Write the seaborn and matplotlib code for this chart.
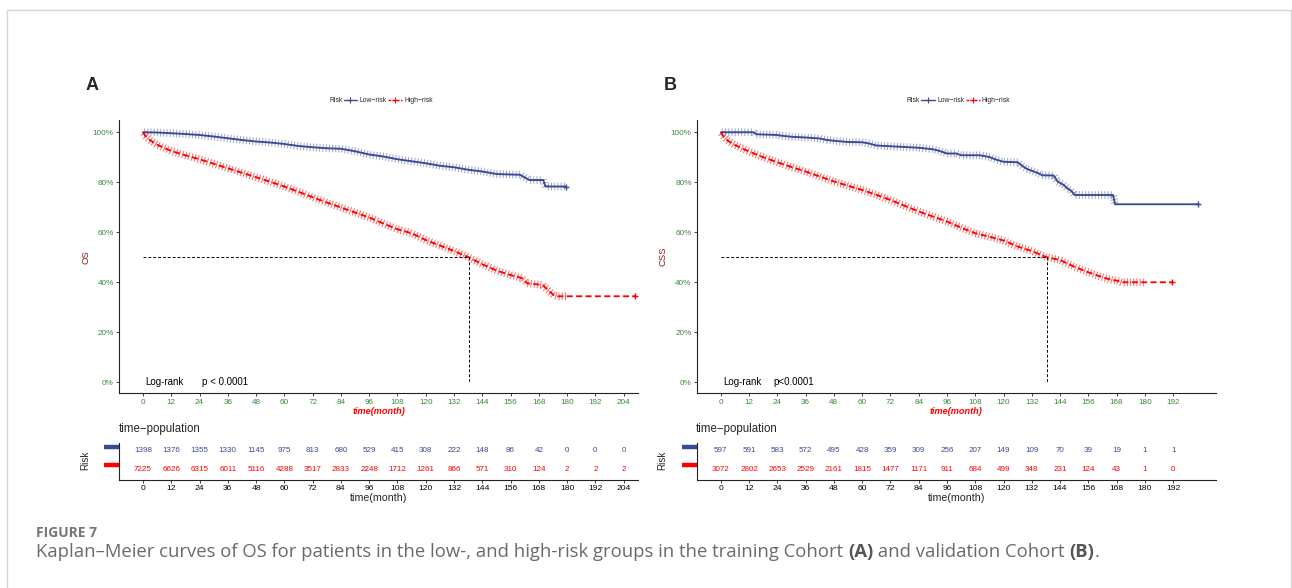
import numpy as np
import pandas as pd
import matplotlib
matplotlib.use("Agg")
import matplotlib.pyplot as plt
import seaborn as sns
from matplotlib import patheffects as pe
from matplotlib.lines import Line2D
from matplotlib.patches import Rectangle

# ---------------- data ----------------
groups = ["Low\u2212risk", "High\u2212risk"]

# Panel A (training cohort, OS)
a_low_t = [0, 6, 12, 18, 24, 30, 36, 42, 48, 54, 60, 66, 72, 78, 84, 90, 96, 102, 108, 114,
           120, 126, 132, 138, 144, 150, 156, 160, 162, 164, 169.9, 170.8, 179.5]
a_low_s = [100, 99.9, 99.6, 99.3, 98.9, 98.3, 97.6, 96.9, 96.3, 95.9, 95.3, 94.5, 94.0, 93.6, 93.4, 92.4,
           91.1, 90.3, 89.2, 88.4, 87.6, 86.6, 86.0, 85.0, 84.3, 83.3, 83.1, 83.0, 81.9, 80.9, 80.9, 78.3, 78.3]
a_high_t = [0, 1, 3, 6, 12, 18, 24, 30, 36, 42, 48, 54, 60, 66, 72, 78, 84, 90, 96, 102, 108, 114,
            120, 126, 132, 138, 144, 150, 156, 161, 163, 169.7, 171.8, 174.3, 176, 180, 209]
a_high_s = [100, 98.5, 96.8, 95.0, 92.5, 90.8, 89.2, 87.4, 85.6, 83.8, 82.0, 80.2, 78.3, 76.2, 74.0, 71.9,
            69.9, 67.9, 65.9, 63.5, 61.2, 59.6, 56.9, 54.7, 52.5, 50.1, 47.2, 44.7, 42.9, 41.6, 39.6, 38.9,
            36.9, 34.9, 34.4, 34.4, 34.4]
a_dense_censor_until = [179.5, 180]

# Panel B (validation cohort, CSS)
b_low_t = [0, 14, 15, 24, 25, 30, 36, 42, 45, 48, 54, 60, 63, 66, 72, 78, 84, 90, 93, 96, 100, 102,
           110, 114, 117, 120, 126, 128, 130, 132, 134.8, 136.4, 141.3, 142.9, 145.4, 147, 148.6, 150.2,
           166.5, 167.3, 202.5]
b_low_s = [100, 100, 99.2, 98.9, 98.7, 98.2, 97.9, 97.5, 96.9, 96.6, 96.1, 96.0, 95.5, 94.7, 94.4, 94.1,
           93.8, 93.2, 92.5, 91.5, 91.5, 90.8, 90.8, 90.1, 89.0, 88.2, 88.0, 86.5, 85.3, 84.6, 83.6, 82.8,
           82.7, 80.3, 79.0, 77.6, 76.7, 74.9, 74.9, 71.2, 71.2]
b_high_t = [0, 1, 3, 6, 12, 18, 24, 30, 36, 42, 48, 54, 60, 66, 72, 78, 84, 90, 96, 102, 108, 114,
            120, 126, 132, 138, 144, 150, 156, 162, 166, 168, 170, 180, 191.6]
b_high_s = [100, 98.5, 96.6, 94.9, 92.3, 90.0, 88.0, 86.1, 84.3, 82.3, 80.3, 78.6, 76.9, 75.0, 72.9, 70.6,
            68.3, 66.3, 64.3, 61.8, 59.6, 58.2, 56.7, 54.3, 52.5, 50.1, 48.9, 46.2, 44.0, 42.0, 40.9, 40.7,
            40.0, 40.0, 40.0]
b_dense_censor_until = [180, 180]

# Risk tables
a_table_times = [0, 12, 24, 36, 48, 60, 72, 84, 96, 108, 120, 132, 144, 156, 168, 180, 192, 204]
a_n_low = [1398, 1376, 1355, 1330, 1145, 975, 813, 680, 529, 415, 308, 222, 148, 86, 42, 0, 0, 0]
a_n_high = [7225, 6626, 6315, 6011, 5116, 4288, 3517, 2833, 2248, 1712, 1261, 866, 571, 310, 124, 2, 2, 2]
b_table_times = [0, 12, 24, 36, 48, 60, 72, 84, 96, 108, 120, 132, 144, 156, 168, 180, 192]
b_n_low = [597, 591, 583, 572, 495, 428, 359, 309, 256, 207, 149, 109, 70, 39, 19, 1, 1]
b_n_high = [3072, 2802, 2653, 2529, 2161, 1815, 1477, 1171, 911, 684, 499, 348, 231, 124, 43, 1, 0]

y_ticks = [0, 20, 40, 60, 80, 100]

# ---------------- style ----------------
sns.set_style("white")
plt.rcParams["font.family"] = ["Liberation Sans", "DejaVu Sans"]
plt.rcParams["axes.unicode_minus"] = True

BLUE = "#3B4992"
RED = "#FF0000"
GREEN = "#3A8A3A"
DARKRED = "#8B1A1A"
pal = {groups[0]: BLUE, groups[1]: RED}

W, H = 1292, 588
fig = plt.figure(figsize=(W / 100, H / 100), dpi=100)
fig.patch.set_facecolor("white")


def fx(x):
    return x / W


def fy(y):
    return 1 - y / H


def draw_panel(left, letter, ylabel, lt, ls, ht, hs, dense_until, ttimes, nlow, nhigh, p_text, p_x):
    right = left + 518.5
    ax = fig.add_axes([fx(left), fy(393.3), (right - left) / W, (393.3 - 120) / H])
    df = pd.DataFrame({
        "time": list(lt) + list(ht),
        "surv": list(ls) + list(hs),
        "Risk": [groups[0]] * len(lt) + [groups[1]] * len(ht),
    })
    sns.lineplot(data=df, x="time", y="surv", hue="Risk", style="Risk", palette=pal,
                 dashes={groups[0]: "", groups[1]: (3.2, 1.8)}, estimator=None, sort=False,
                 linewidth=1.35, legend=False, ax=ax)
    # censor marks
    for (t, s), col, until, alpha in zip([(lt, ls), (ht, hs)], [BLUE, RED], dense_until, [0.5, 0.6]):
        t = np.asarray(t, float)
        s = np.asarray(s, float)
        m = t <= until
        ax.plot(t[m], s[m], color=col, lw=0.7,
                path_effects=[pe.TickedStroke(spacing=2.3, angle=90, length=1.1, alpha=alpha),
                              pe.TickedStroke(spacing=2.3, angle=-90, length=1.1, alpha=alpha)])
        ax.plot(t[-1:], s[-1:], ls="none", marker="+", ms=5, mew=1.0, color=col)
    # median survival lines
    hs_arr = np.asarray(hs, float)
    ht_arr = np.asarray(ht, float)
    med = float(np.interp(50, hs_arr[::-1], ht_arr[::-1]))
    ax.plot([0, med], [50, 50], color="black", lw=0.7, dashes=(3, 2))
    ax.plot([med, med], [50, 0], color="black", lw=0.7, dashes=(3, 2))

    ax.set_xlim(-10.06, 210)
    ax.set_ylim(-4.4, 104.9)
    ax.set_xticks(ttimes)
    ax.set_yticks(y_ticks)
    ax.set_yticklabels([f"{v}%" for v in y_ticks])
    for sp in ["top", "right"]:
        ax.spines[sp].set_visible(False)
    for sp in ["left", "bottom"]:
        ax.spines[sp].set_color("#222222")
        ax.spines[sp].set_linewidth(0.8)
    ax.tick_params(axis="both", which="major", length=2.5, width=0.6, color="#222222",
                   labelsize=5.9, labelcolor=GREEN, pad=1.5, left=True, bottom=True)
    ax.set_xlabel("time(month)", fontsize=6.6, color=RED, fontweight="bold", style="italic")
    ax.xaxis.label.set_va("center")
    ax.xaxis.set_label_coords(0.5, (393.3 - 411) / 273.3)
    ax.set_ylabel(ylabel, fontsize=6.8, color=DARKRED)
    ax.yaxis.label.set_va("center")
    ax.yaxis.set_label_coords(-33.7 / 518.5, 0.5)
    ax.text(1.1, 0, "Log-rank", fontsize=7, va="center", ha="left", color="black")
    ax.text(p_x, 0, p_text, fontsize=7, va="center", ha="left", color="black")

    # legend
    cx = left + 259.25
    fig.text(fx(cx - 36), fy(101), "Risk", fontsize=4.9, ha="right", va="center")
    handles = [Line2D([], [], color=pal[g], lw=1.0, marker="+", ms=4, mew=0.8,
                      linestyle="-" if i == 0 else (0, (2, 1)))
               for i, g in enumerate(groups)]
    fig.legend(handles, groups, loc="center left", bbox_to_anchor=(fx(cx - 35), fy(101)),
               ncol=2, frameon=False, fontsize=4.9, handlelength=2.0, handletextpad=0.3,
               columnspacing=0.3, borderpad=0, borderaxespad=0)

    # panel letter
    fig.text(fx(left - 26.8), fy(85), letter, fontsize=13, fontweight="bold", ha="center", va="center")

    # risk table
    axt = fig.add_axes([fx(left), fy(480), (right - left) / W, 37 / H])
    axt.set_xlim(-10.06, 210)
    axt.set_ylim(0.4, 2.42)
    for t, n in zip(ttimes, nlow):
        axt.text(t, 2, str(n), color=BLUE, ha="center", va="center", fontsize=5.8)
    for t, n in zip(ttimes, nhigh):
        axt.text(t, 1, str(n), color=RED, ha="center", va="center", fontsize=5.8)
    axt.set_xticks(ttimes)
    axt.set_yticks([2.22, 1.22])
    axt.set_yticklabels(["", ""])
    for sp in ["top", "right"]:
        axt.spines[sp].set_visible(False)
    for sp in ["left", "bottom"]:
        axt.spines[sp].set_color("#222222")
        axt.spines[sp].set_linewidth(0.8)
    axt.tick_params(axis="x", length=2.2, width=0.6, color="#222222", labelsize=6.1,
                    labelcolor="black", pad=1.2, bottom=True)
    axt.tick_params(axis="y", length=11, width=3.2, direction="out", left=True)
    for tick, col in zip(axt.yaxis.get_major_ticks(), [BLUE, RED]):
        tick.tick1line.set_color(col)
        tick.tick1line.set_markeredgecolor(col)
    axt.set_xlabel("time(month)", fontsize=7.7)
    axt.xaxis.label.set_va("center")
    axt.xaxis.set_label_coords(0.5, (480 - 497.7) / 37)
    fig.text(fx(left - 0.8), fy(429), "time\u2212population", fontsize=8.3, ha="left", va="center")
    fig.text(fx(left - 34.4), fy(460), "Risk", fontsize=7.1, rotation=90, ha="center", va="center")
    return ax


draw_panel(119.3, "A", "OS", a_low_t, a_low_s, a_high_t, a_high_s, a_dense_censor_until,
           a_table_times, a_n_low, a_n_high, "p < 0.0001", 24.9)
draw_panel(697.1, "B", "CSS", b_low_t, b_low_s, b_high_t, b_high_s, b_dense_censor_until,
           b_table_times, b_n_low, b_n_high, "p<0.0001", 22.2)

# outer frame
fig.patches.append(Rectangle((fx(6.5), -0.1), fx(1291) - fx(6.5), fy(10) + 0.1,
                             transform=fig.transFigure, fill=False, edgecolor="#d4d4d4", lw=1.0))

# caption
fig.text(fx(36), fy(537), "FIGURE 7", fontsize=10, fontweight="bold", color="#777777",
         family=["Open Sans", "DejaVu Sans"], va="baseline", ha="left")
pieces = [("Kaplan\u2013Meier curves of OS for patients in the low-, and high-risk groups in the training Cohort ", False),
          ("(A)", True), (" and validation Cohort ", False), ("(B)", True), (".", False)]
renderer = fig.canvas.get_renderer()
xpos = fx(36)
for txt, bold in pieces:
    t = fig.text(xpos, fy(557), txt, fontsize=13.3, fontweight="bold" if bold else "normal",
                 color="#555555" if bold else "#6a6a6a", family=["Open Sans", "DejaVu Sans"],
                 va="baseline", ha="left")
    bb = t.get_window_extent(renderer=renderer)
    xpos += bb.width / W

fig.savefig("out.png", dpi=100, facecolor="white")
